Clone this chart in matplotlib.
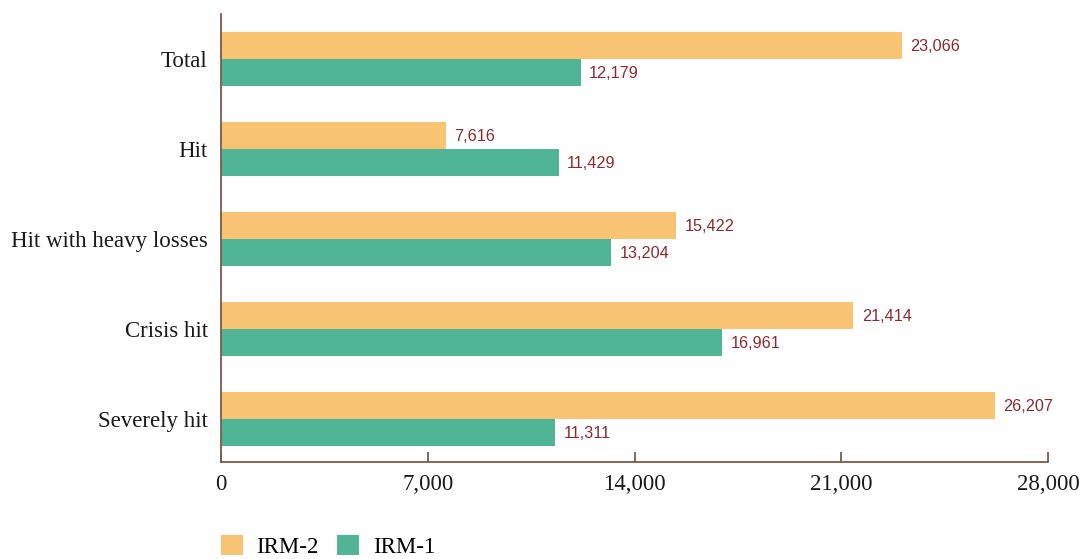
import matplotlib
matplotlib.use("Agg")
import matplotlib.pyplot as plt
from matplotlib.patches import Patch
import numpy as np

categories = ["Severely hit", "Crisis hit", "Hit with heavy losses", "Hit", "Total"]
irm2 = [26207, 21414, 15422, 7616, 23066]
irm1 = [11311, 16961, 13204, 11429, 12179]
xticks = [0, 7000, 14000, 21000, 28000]
series_names = ["IRM-2", "IRM-1"]

c_irm2 = "#F9C374"
c_irm1 = "#4FB594"
axis_col = "#7A5B4C"
label_col = "#8B2A2E"
serif = ["Liberation Serif", "DejaVu Serif"]
sans = ["Liberation Sans", "DejaVu Sans"]

fig = plt.figure(figsize=(10.86, 5.59), dpi=100)
ax = fig.add_axes([221 / 1086, 1 - 462 / 559, (1048 - 221) / 1086, (462 - 14) / 559])

y = np.arange(len(categories))
h = 0.3
b2 = ax.barh(y + h / 2, irm2, height=h, color=c_irm2, linewidth=0)
b1 = ax.barh(y - h / 2, irm1, height=h, color=c_irm1, linewidth=0)

for bars, vals in ((b2, irm2), (b1, irm1)):
    for bar, v in zip(bars, vals):
        ax.annotate(f"{v:,}", xy=(v, bar.get_y() + bar.get_height() / 2),
                    xytext=(6, -0.5), textcoords="offset points",
                    va="center", ha="left", fontsize=11.7, color=label_col,
                    family=sans)

ax.set_xlim(0, 28000)
ax.set_ylim(-0.48, 4.5)
ax.set_xticks(xticks)
ax.set_xticklabels([f"{t:,}" for t in xticks], family=serif, fontsize=16.5, color="#1a1a1a")
ax.set_yticks(y)
ax.set_yticklabels(categories, family=serif, fontsize=16.5, color="#1a1a1a")

for s in ("top", "right"):
    ax.spines[s].set_visible(False)
for s in ("left", "bottom"):
    ax.spines[s].set_color(axis_col)
    ax.spines[s].set_linewidth(1.3)

ax.tick_params(axis="x", direction="in", length=7.5, width=1.3, color=axis_col, pad=9)
ax.tick_params(axis="y", length=0, pad=9.5)

handles = [Patch(facecolor=c_irm2, edgecolor="none"), Patch(facecolor=c_irm1, edgecolor="none")]
fig.legend(handles, series_names, loc="center left", bbox_to_anchor=(221 / 1086, 0.0225),
           ncol=2, frameon=False, borderpad=0, borderaxespad=0,
           prop={"family": serif, "size": 16.5},
           handlelength=0.95, handleheight=0.95, handletextpad=0.6, columnspacing=0.8)

fig.savefig("out.png", dpi=100)
